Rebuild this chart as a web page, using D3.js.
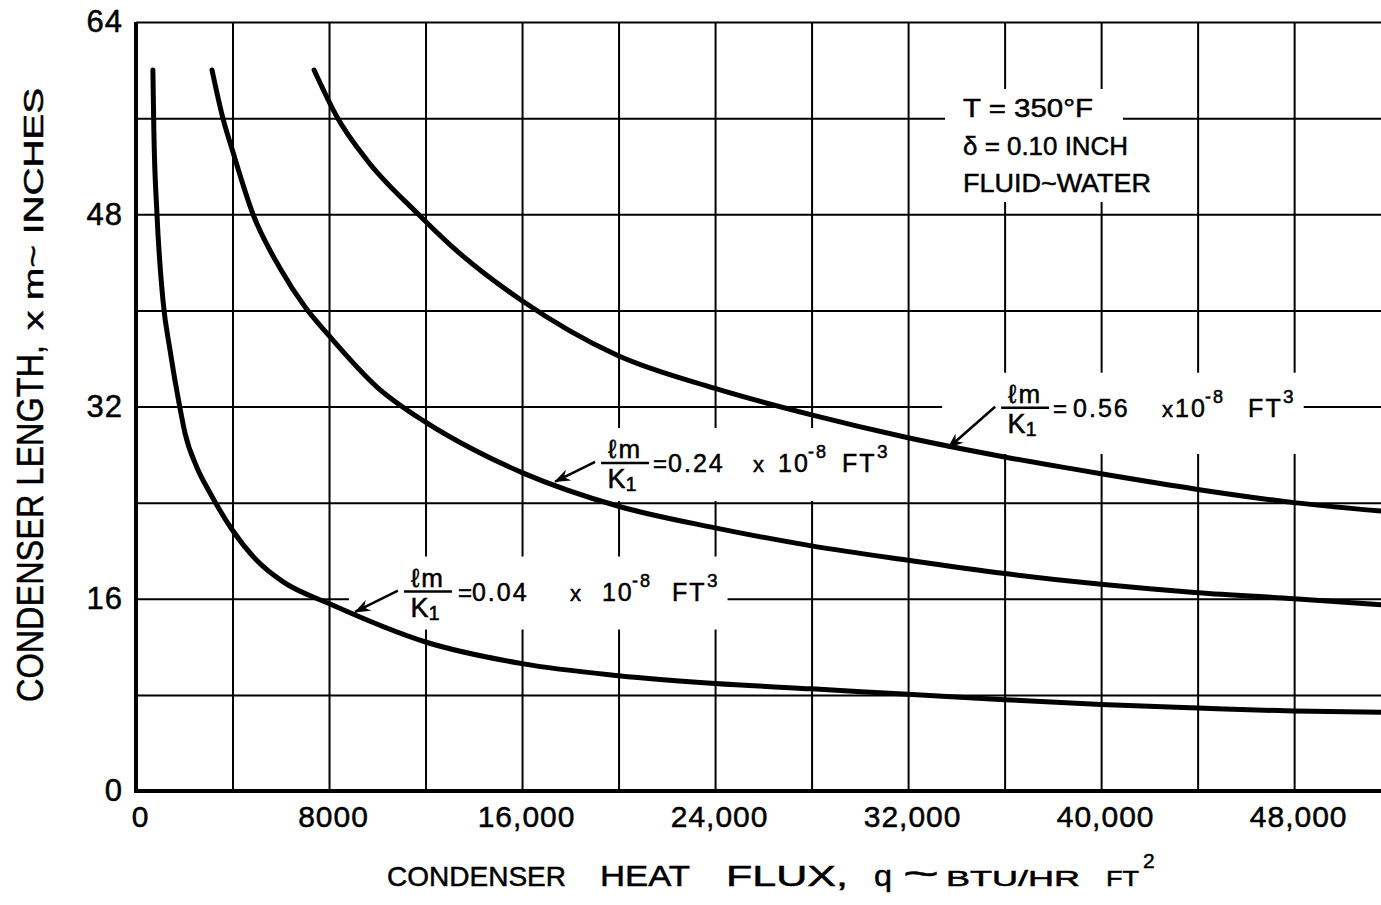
<!DOCTYPE html>
<html>
<head>
<meta charset="utf-8">
<script src="https://cdn.jsdelivr.net/npm/d3@7"></script>
<style>
  body { margin: 0; background: #fff; }
  text { font-family: "Liberation Sans", Arial, sans-serif; fill: #000; stroke: #000; stroke-width: 0.5; }
</style>
</head>
<body>
<script>
const width = 1381
const height = 905

// tick values
const xTickLabels = [0, 8000, 16000, 24000, 32000, 40000, 48000];
const yTickLabels = [0, 16, 32, 48, 64];

// curves: [heat flux q (BTU/hr ft2), condenser length (in)]
const curve004 = [[700, 60], [740, 55], [870, 48], [1120, 40.8], [1410, 36.7], [1820, 31.9], [2030, 29.8],
    [2530, 26.9], [3070, 24.8], [4000, 21.7], [5000, 19.2], [6100, 17.4], [8000, 15.6],
    [12000, 12.4], [16000, 10.6], [20000, 9.6], [24000, 8.95], [28000, 8.5], [32000, 8.05], [36000, 7.6],
    [40000, 7.2], [44000, 6.9], [48000, 6.65], [51600, 6.55]];
const curve024 = [[3150, 60], [3600, 56], [4000, 53.3], [4850, 48], [6000, 43.4], [7000, 40.3], [8000, 37.9],
    [10000, 33.6], [12000, 30.7], [14000, 28.4], [16000, 26.5], [20000, 23.7], [24000, 21.9], [28000, 20.4],
    [32000, 19.2], [36000, 18.1], [40000, 17.2], [44000, 16.5], [48000, 16.0], [51600, 15.5]];
const curve056 = [[7380, 60], [8330, 56.1], [9575, 52.5], [11650, 48.1], [13100, 45.3], [16000, 40.8],
    [19900, 36.3], [24000, 33.5], [28000, 31.3], [32000, 29.4], [36000, 27.8], [40000, 26.4], [44000, 25.1],
    [48000, 24.0], [51600, 23.3]];

const curveValues = ["0.04", "0.24", "0.56"];

// label placement (fraction centre, arrow tip, text offsets from the fraction centre)
const labelLayout = [
    { at: [12100, 16.6], tip: [9080, 14.9], eq: 30, val: 44, times: 142, ten: 174, ft: 244 },
    { at: [20270, 27.3], tip: [17370, 25.75], eq: 28, val: 43, times: 128, ten: 153, ft: 217 },
    { at: [36850, 31.9], tip: [33660, 28.55], eq: 28, val: 48, times: 137, ten: 150, ft: 223 }
];
const noteLines = ["T = 350°F", "δ = 0.10 INCH", "FLUID~WATER"];
const noteLengths = [130, 165, 188];

const svg = d3.select("body").append("svg")
    .attr("width", width)
    .attr("height", height);

const x = d3.scaleLinear().domain([0, 51600]).range([136, 1381]);
const y = d3.scaleLinear().domain([0, 64]).range([791, 22]);

// grid
const grid = svg.append("g");
grid.append("g")
    .attr("transform", `translate(0,${y(0)})`)
    .call(d3.axisBottom(x).tickValues(d3.range(4000, 52000, 4000)).tickSize(-(y(0) - y(64))).tickFormat(""))
    .call(g => g.select(".domain").remove())
    .selectAll("line").attr("stroke", "#000").attr("stroke-width", 2);
grid.append("g")
    .attr("transform", `translate(${x(0)},0)`)
    .call(d3.axisLeft(y).tickValues(d3.range(8, 72, 8)).tickSize(-(width - x(0))).tickFormat(""))
    .call(g => g.select(".domain").remove())
    .selectAll("line").attr("stroke", "#000").attr("stroke-width", 2);

// white backing behind labels (breaks the grid like the drawing does)
const backs = svg.append("g");

const line = d3.line()
    .x(d => x(d[0]))
    .y(d => y(d[1]))
    .curve(d3.curveMonotoneX);

svg.append("g").selectAll("path")
    .data([curve004, curve024, curve056])
    .enter()
    .append("path")
    .attr("d", line)
    .attr("fill", "none")
    .attr("stroke", "#000")
    .attr("stroke-width", 5)
    .attr("stroke-linecap", "round");

// axes
svg.append("line").attr("x1", x(0)).attr("x2", width).attr("y1", y(0)).attr("y2", y(0))
    .attr("stroke", "#000").attr("stroke-width", 4);
svg.append("line").attr("x1", x(0)).attr("x2", x(0)).attr("y1", y(0) + 2).attr("y2", y(64))
    .attr("stroke", "#000").attr("stroke-width", 4);

const fmtX = v => v < 10000 ? String(v) : d3.format(",")(v);

svg.append("g")
    .attr("transform", `translate(0,${y(0)})`)
    .call(d3.axisBottom(x).tickValues(xTickLabels).tickSize(0).tickPadding(15).tickFormat(fmtX))
    .call(g => g.select(".domain").remove())
    .selectAll("text")
    .attr("font-size", 30)
    .attr("font-family", "Liberation Sans")
    .attr("letter-spacing", 1)
    .attr("dx", 4);

svg.append("g")
    .attr("transform", `translate(${x(0)},0)`)
    .call(d3.axisLeft(y).tickValues(yTickLabels).tickSize(0).tickPadding(13).tickFormat(d3.format("d")))
    .call(g => g.select(".domain").remove())
    .selectAll("text")
    .attr("font-size", 31)
    .attr("font-family", "Liberation Sans")
    .attr("letter-spacing", 1);

// curve labels
const marker = svg.append("defs").append("marker")
    .attr("id", "arrow")
    .attr("viewBox", "0 0 16 12")
    .attr("refX", 15).attr("refY", 6)
    .attr("markerWidth", 16).attr("markerHeight", 12)
    .attr("markerUnits", "userSpaceOnUse")
    .attr("orient", "auto");
marker.append("path").attr("d", "M0,0 L16,6 L0,12 L5,6 Z").attr("fill", "#000");

curveValues.forEach((value, i) => {
    const lay = labelLayout[i];
    const cx = x(lay.at[0]), by = y(lay.at[1]);
    const g = svg.append("g");
    g.append("line")
        .attr("x1", cx - 30).attr("y1", by - 1)
        .attr("x2", x(lay.tip[0])).attr("y2", y(lay.tip[1]))
        .attr("stroke", "#000").attr("stroke-width", 2.5)
        .attr("marker-end", "url(#arrow)");
    g.append("text").attr("x", cx).attr("y", by - 5).attr("text-anchor", "middle")
        .attr("font-size", 26).attr("letter-spacing", 2).text("ℓm");
    g.append("line").attr("x1", cx - 24).attr("x2", cx + 24).attr("y1", by).attr("y2", by)
        .attr("stroke", "#000").attr("stroke-width", 2.5);
    const k = g.append("text").attr("x", cx - 3).attr("y", by + 25).attr("text-anchor", "middle")
        .attr("font-size", 27);
    k.append("tspan").text("K");
    k.append("tspan").attr("dy", 3).attr("font-size", 20).text("1");
    const put = (dx, dy, size, txt) => g.append("text")
        .attr("x", cx + dx).attr("y", by + dy).attr("font-size", size).attr("letter-spacing", 2).text(txt);
    put(lay.eq, 9, 24, "=");
    put(lay.val, 9, 25, value);
    put(lay.times, 9, 22, "x");
    put(lay.ten, 9, 25, "10");
    put(lay.ten + 30, -5, 18, "-8");
    put(lay.ft, 9, 25, "FT");
    put(lay.ft + 35, -5, 19, "3");
    const b = g.node().getBBox();
    backs.append("rect")
        .attr("x", b.x - 6).attr("y", b.y - 6)
        .attr("width", b.width + 14).attr("height", b.height + 12)
        .attr("fill", "#fff");
});

// note block
const note = svg.append("g");
note.selectAll("text")
    .data(noteLines)
    .enter()
    .append("text")
    .attr("x", 963)
    .attr("y", (d, i) => 117 + i * 37.5)
    .attr("font-size", 26)
    .attr("textLength", (d, i) => noteLengths[i])
    .attr("lengthAdjust", "spacingAndGlyphs")
    .text(d => d)
    .each(function() {
        const b = this.getBBox();
        backs.append("rect")
            .attr("x", b.x - 18).attr("y", b.y - 4)
            .attr("width", b.width + 48).attr("height", b.height + 8)
            .attr("fill", "#fff");
    });

// axis titles
const xTitle = [
    { t: "CONDENSER", x: 387, len: 179, size: 28 },
    { t: "HEAT", x: 600, len: 90, size: 29 },
    { t: "FLUX,", x: 726, len: 122, size: 29 },
    { t: "q", x: 874, len: 18, size: 30 },
    { t: "~", x: 903, len: 36, size: 36 },
    { t: "BTU/HR", x: 946, len: 134, size: 22 },
    { t: "FT", x: 1106, len: 33, size: 22 }
];
svg.append("g").selectAll("text")
    .data(xTitle)
    .enter()
    .append("text")
    .attr("x", d => d.x)
    .attr("y", 886)
    .attr("font-size", d => d.size)
    .attr("textLength", d => d.len)
    .attr("lengthAdjust", "spacingAndGlyphs")
    .text(d => d.t);
svg.append("text").attr("x", 1143).attr("y", 868).attr("font-size", 21).text("2");

const yt = svg.append("g").attr("transform", "translate(43,0)");
yt.append("text")
    .attr("transform", "translate(0,702) rotate(-90)")
    .attr("font-size", 36)
    .attr("textLength", 357)
    .attr("lengthAdjust", "spacingAndGlyphs")
    .text("CONDENSER LENGTH,");
yt.append("text")
    .attr("transform", "translate(0,330) rotate(-90)")
    .attr("font-size", 27)
    .attr("textLength", 242)
    .attr("lengthAdjust", "spacingAndGlyphs")
    .text("x m~ INCHES");
</script>
</body>
</html>
